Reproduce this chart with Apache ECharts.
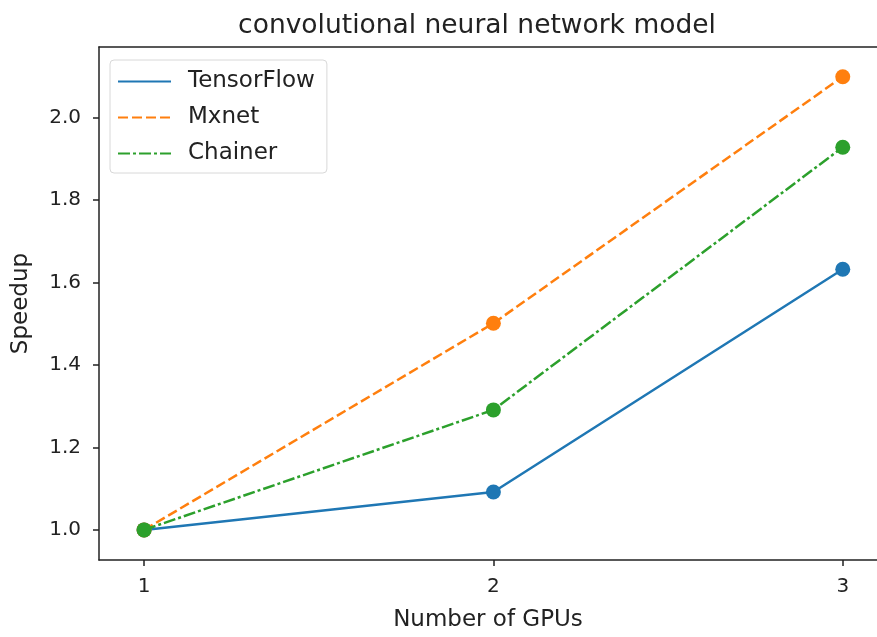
<!DOCTYPE html>
<html>
<head>
<meta charset="utf-8">
<script src="https://cdn.jsdelivr.net/npm/echarts@6/dist/echarts.min.js"></script>
<style>html,body{margin:0;padding:0;background:#fff;}#c{width:877px;height:637px;}</style>
</head>
<body>
<div id="c"></div>
<script>
const gpus = [1, 2, 3];
const tensorflow = [1.0, 1.092, 1.632];
const mxnet = [1.0, 1.501, 2.099];
const chainer = [1.0, 1.291, 1.928];
const yTicks = [1.0, 1.2, 1.4, 1.6, 1.8, 2.0];
const xTicks = [1, 2, 3];
const seriesNames = ['TensorFlow', 'Mxnet', 'Chainer'];
const colors = ['#1f77b4', '#ff7f0e', '#2ca02c'];
const dashes = ['solid', [10, 4], [12, 3, 3, 3]];
const values = [tensorflow, mxnet, chainer];

const font = 'DejaVu Sans';
const chart = echarts.init(document.getElementById('c'), null, {renderer: 'canvas'});
chart.setOption({
  animation: false,
  backgroundColor: '#fff',
  title: {
    text: 'convolutional neural network model',
    left: 472, top: 8, textAlign: 'center',
    textStyle: {fontFamily: font, fontSize: 26.5, fontWeight: 'normal', color: '#222'}
  },
  grid: {left: 99, top: 47, right: 0, bottom: 76, show: false},
  legend: {
    orient: 'vertical', left: 110, top: 60,
    data: seriesNames,
    itemWidth: 53, itemHeight: 20, itemGap: 13,
    padding: [10, 12, 8, 7],
    borderColor: '#d8d8d8', borderWidth: 1, borderRadius: 4,
    backgroundColor: 'rgba(255,255,255,0.8)',
    itemStyle: {color: 'rgba(0,0,0,0)', borderWidth: 0, opacity: 0},
    textStyle: {fontFamily: font, fontSize: 23, color: '#222', padding: [0, 0, 0, 12]}
  },
  xAxis: [{
    type: 'value', min: 0.871, max: 3.098,
    name: 'Number of GPUs', nameLocation: 'middle', nameGap: 49,
    nameTextStyle: {fontFamily: font, fontSize: 23, color: '#222'},
    splitLine: {show: false},
    axisLine: {show: true, onZero: false, lineStyle: {color: '#222', width: 1.5}},
    axisTick: {show: true, length: 6, lineStyle: {color: '#222', width: 1.5}, customValues: xTicks},
    axisLabel: {fontFamily: font, fontSize: 20, color: '#222', margin: 17, customValues: xTicks, formatter: v => String(v)}
  }, {
    type: 'value', position: 'top', min: 0.871, max: 3.098,
    splitLine: {show: false}, axisTick: {show: false}, axisLabel: {show: false},
    axisLine: {show: true, onZero: false, lineStyle: {color: '#222', width: 1.5}}
  }],
  yAxis: {
    type: 'value', min: 0.927, max: 2.171,
    name: 'Speedup', nameLocation: 'middle', nameGap: 66, nameRotate: 90,
    nameTextStyle: {fontFamily: font, fontSize: 23, color: '#222'},
    splitLine: {show: false},
    axisLine: {show: true, onZero: false, lineStyle: {color: '#222', width: 1.5}},
    axisTick: {show: true, length: 6, lineStyle: {color: '#222', width: 1.5}, customValues: yTicks},
    axisLabel: {fontFamily: font, fontSize: 20, color: '#222', margin: 18, customValues: yTicks, formatter: v => v.toFixed(1)}
  },
  series: seriesNames.map((n, i) => ({
    name: n, type: 'line',
    data: gpus.map((g, j) => [g, values[i][j]]),
    symbol: 'circle', symbolSize: 15,
    itemStyle: {color: colors[i]},
    lineStyle: {color: colors[i], width: 2.5, type: dashes[i]},
    z: 2 + i
  }))
});
</script>
</body>
</html>
